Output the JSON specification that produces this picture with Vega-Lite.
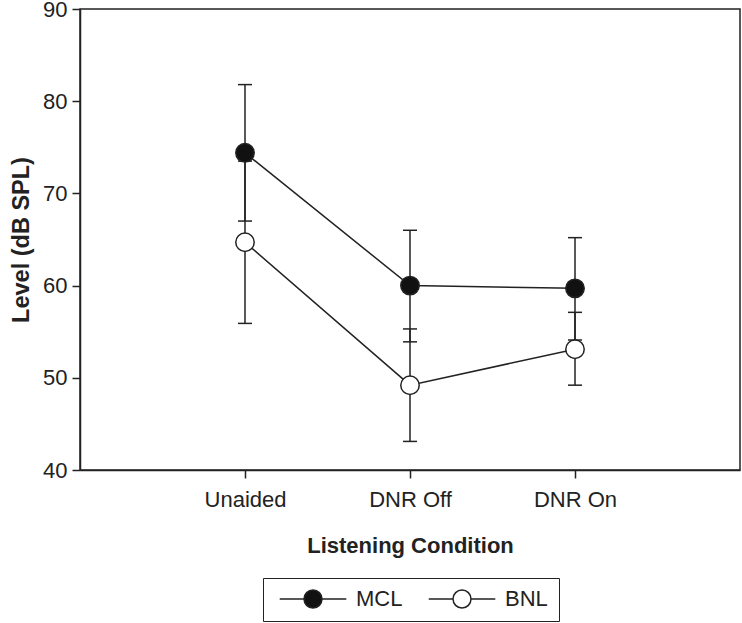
{
  "$schema": "https://vega.github.io/schema/vega-lite/v6.json",
  "width": 660,
  "height": 461,
  "autosize": {"type": "none"},
  "padding": {"left": 80, "top": 9, "right": 2, "bottom": 153},
  "background": "white",
  "data": {
    "values": [
      {"condition": "Unaided", "series": "MCL", "mean": 74.4, "lower": 67.0, "upper": 81.8},
      {"condition": "Unaided", "series": "BNL", "mean": 64.7, "lower": 55.9, "upper": 73.5},
      {"condition": "DNR Off", "series": "MCL", "mean": 60.0, "lower": 53.9, "upper": 66.0},
      {"condition": "DNR Off", "series": "BNL", "mean": 49.2, "lower": 43.1, "upper": 55.3},
      {"condition": "DNR On", "series": "MCL", "mean": 59.7, "lower": 54.1, "upper": 65.2},
      {"condition": "DNR On", "series": "BNL", "mean": 53.1, "lower": 49.2, "upper": 57.1}
    ]
  },
  "encoding": {
    "x": {
      "field": "condition",
      "type": "nominal",
      "sort": ["Unaided", "DNR Off", "DNR On"],
      "scale": {"type": "point", "padding": 1, "domain": ["Unaided", "DNR Off", "DNR On"]},
      "axis": {"labelAngle": 0, "title": "Listening Condition", "labelPadding": 11, "titlePadding": 25}
    }
  },
  "layer": [
    {
      "mark": {"type": "rule", "color": "#222", "strokeWidth": 1.5},
      "encoding": {
        "y": {"field": "lower", "type": "quantitative"},
        "y2": {"field": "upper"}
      }
    },
    {
      "mark": {"type": "tick", "color": "#222", "thickness": 1.5, "size": 14, "orient": "horizontal", "opacity": 1},
      "encoding": {"y": {"field": "lower", "type": "quantitative"}}
    },
    {
      "mark": {"type": "tick", "color": "#222", "thickness": 1.5, "size": 14, "orient": "horizontal", "opacity": 1},
      "encoding": {"y": {"field": "upper", "type": "quantitative"}}
    },
    {
      "mark": {"type": "line", "color": "#222", "strokeWidth": 1.5},
      "encoding": {
        "y": {"field": "mean", "type": "quantitative"},
        "detail": {"field": "series"}
      }
    },
    {
      "mark": {"type": "point", "filled": true, "size": 340, "stroke": "#222", "strokeWidth": 1.5, "opacity": 1},
      "encoding": {
        "y": {
          "field": "mean",
          "type": "quantitative",
          "scale": {"domain": [40, 90], "nice": false, "zero": false},
          "axis": {"values": [40, 50, 60, 70, 80, 90], "title": "Level (dB SPL)", "labelPadding": 5, "titlePadding": 9, "titleFontSize": 23.5}
        },
        "fill": {
          "field": "series",
          "type": "nominal",
          "scale": {"domain": ["MCL", "BNL"], "range": ["#111111", "#ffffff"]},
          "legend": {
            "orient": "none",
            "legendX": 183,
            "legendY": 569,
            "direction": "horizontal",
            "title": null,
            "strokeColor": "#222",
            "padding": 11,
            "clipHeight": 20,
            "symbolType": "M-3.7,0H-1M1,0H3.7M1,0A1,1 0 1,1 -1,0A1,1 0 1,1 1,0Z",
            "symbolSize": 324,
            "symbolStrokeColor": "#222",
            "symbolStrokeWidth": 1.5,
            "symbolOpacity": 1,
            "symbolOffset": 28,
            "labelOffset": 32,
            "labelFont": "Liberation Sans",
            "labelFontSize": 22,
            "labelColor": "#222",
            "columnPadding": 20
          }
        }
      }
    }
  ],
  "config": {
    "view": {"stroke": "#222", "strokeWidth": 1.5},
    "axis": {
      "domainColor": "#222",
      "domainWidth": 1.5,
      "tickColor": "#222",
      "tickWidth": 1.5,
      "tickSize": 8,
      "grid": false,
      "labelColor": "#222",
      "titleColor": "#222",
      "labelFont": "Liberation Sans",
      "titleFont": "Liberation Sans",
      "labelFontSize": 22,
      "titleFontSize": 22,
      "titleFontWeight": "bold"
    }
  }
}
